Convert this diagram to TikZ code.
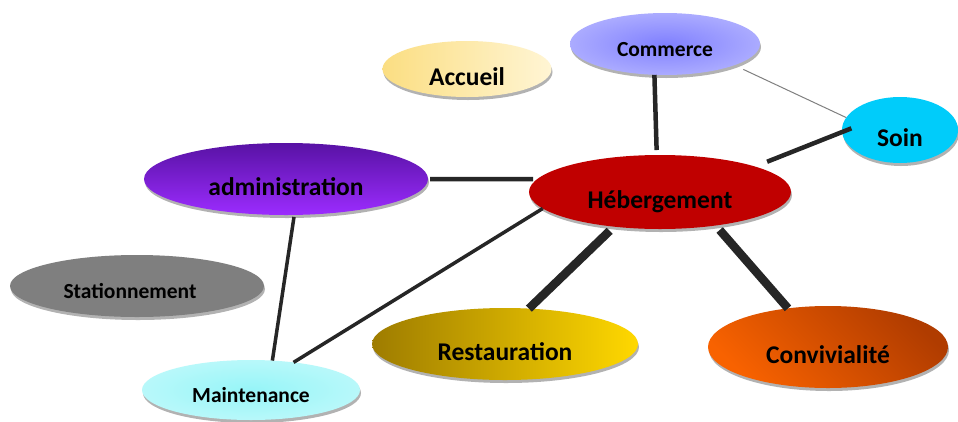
\documentclass[tikz,border=0pt]{standalone}
\usepackage{fontspec}
\setmainfont{Carlito}
\usetikzlibrary{shapes.geometric,shadows}
\definecolor{accL}{RGB}{251,222,130}
\definecolor{accR}{RGB}{255,245,212}
\definecolor{comIn}{RGB}{128,128,255}
\definecolor{comOut}{RGB}{214,214,255}
\definecolor{soinC}{RGB}{0,204,250}
\definecolor{hebC}{RGB}{192,0,0}
\definecolor{admT}{RGB}{88,18,164}
\definecolor{admB}{RGB}{156,44,255}
\definecolor{staC}{RGB}{127,127,127}
\definecolor{maiIn}{RGB}{150,245,248}
\definecolor{maiOut}{RGB}{218,252,252}
\definecolor{resL}{RGB}{158,124,0}
\definecolor{resR}{RGB}{255,216,0}
\definecolor{conT}{RGB}{176,60,0}
\definecolor{conB}{RGB}{248,98,0}
\definecolor{lineC}{RGB}{38,38,38}
\definecolor{thinC}{RGB}{128,128,128}
\pgfdeclareradialshading{comshade}{\pgfpoint{0bp}{0bp}}{color(0bp)=(comIn); color(50bp)=(comOut)}
\pgfdeclareradialshading{maishade}{\pgfpoint{0bp}{0bp}}{color(0bp)=(maiIn); color(50bp)=(maiOut)}
\begin{document}
\begin{tikzpicture}[x=1pt,y=-1pt,
  bubble/.style={ellipse, inner sep=0pt, outer sep=0pt, text=black, draw=none,
    drop shadow={shadow xshift=1pt, shadow yshift=-3pt, opacity=0.3, fill=black}},
  bigt/.style={font=\fontsize{25.5}{30}\selectfont\bfseries, text height=32pt, text depth=0pt},
  smallt/.style={font=\fontsize{21.5}{25}\selectfont\bfseries, text height=24pt, text depth=0pt},
  midline/.style={draw=lineC, line width=4.5pt},
  medline/.style={draw=lineC, line width=3.5pt},
  thickline/.style={draw=lineC, line width=8.5pt},
  thinline/.style={draw=thinC, line width=1pt}]
\useasboundingbox[fill=white] (0,0) rectangle (958,421);
\node[bubble, bigt, minimum width=169pt, minimum height=56pt, left color=accL, right color=accR] (acc) at (467,69) {Accueil};
\node[bubble, smallt, minimum width=190pt, minimum height=62pt, shading=comshade] (com) at (665,44) {Commerce};
\node[bubble, bigt, minimum width=116pt, minimum height=66pt, fill=soinC] (soin) at (900,130) {Soin};
\node[bubble, bigt, minimum width=262pt, minimum height=74pt, fill=hebC] (heb) at (660,192) {Hébergement};
\node[bubble, bigt, minimum width=284pt, minimum height=72pt, top color=admT, bottom color=admB] (adm) at (286,179) {administration};
\node[bubble, smallt, minimum width=254pt, minimum height=62pt, fill=staC] (sta) at (137,286) {Stationnement\kern14pt};
\node[bubble, smallt, minimum width=218pt, minimum height=60pt, shading=maishade] (mai) at (251,390) {Maintenance};
\node[bubble, bigt, minimum width=266pt, minimum height=72pt, left color=resL, right color=resR] (res) at (505,344) {Restauration};
\node[bubble, bigt, minimum width=240pt, minimum height=82pt, top color=conT, bottom color=conB, shading angle=-45] (con) at (828,347) {Convivialité};
\draw[midline, shorten >=5pt] (com.251) -- (heb.95);
\draw[thinline, shorten <=10pt] (com.343) -- (soin.167);
\draw[midline, shorten <=-10pt, shorten >=13pt] (soin.182) -- (heb.15);
\draw[midline, shorten <=2pt, shorten >=4pt] (adm.0) -- (heb.174);
\draw[medline] (heb.188) -- (mai.33);
\draw[medline, shorten <=2pt] (adm.283) -- (mai.54);
\draw[thickline, shorten <=6pt] (heb.217) -- (res.56);
\draw[thickline, shorten <=6pt] (heb.329) -- (con.136);
\end{tikzpicture}
\end{document}
